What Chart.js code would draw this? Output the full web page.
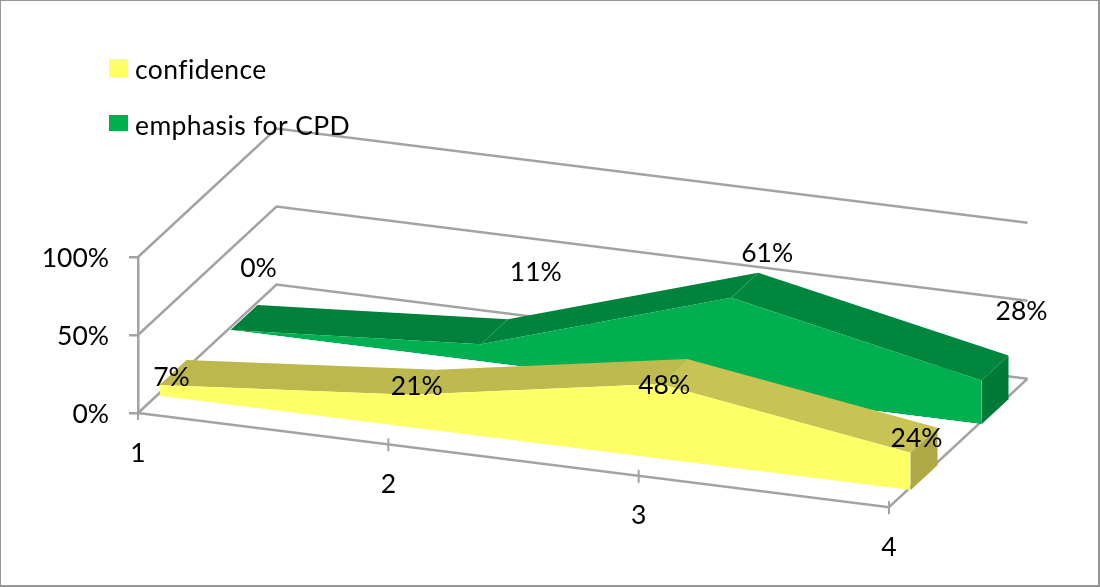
<!DOCTYPE html>
<html>
<head>
<meta charset="utf-8">
<title>confidence and emphasis for CPD</title>
<script src="https://cdn.jsdelivr.net/npm/chart.js@4"></script>
<style>
    html, body { margin: 0; padding: 0; background: #fff; }
    canvas { display: block; }
</style>
</head>
<body>
<canvas id="areaChart" width="1100" height="587"></canvas>
<script>
const categories = ['1', '2', '3', '4'];
const confidence = [7, 21, 48, 24];
const emphasis = [0, 11, 61, 28];
const yTicks = [0, 50, 100];

// oblique projection
const SHEAR = 0.1255;
const FLOOR_DEPTH = [138.5, -128.5];
const RIBBON_DEPTH = [27, -25];
const FONT = '26.5px Lato';

const looks = [
    { offset: [21.5, -17], ribbon: ['#bdb84e', '#bfba4f', '#c8c354'], side: '#aea945',
      nudge: [[12, -8], [7, -8], [4, 1], [6, -14]] },
    { offset: [92.5, -83], ribbon: ['#00813b', '#00833c', '#00873e'], side: '#007a37',
      nudge: [[28, -62], [55, -72], [36, -44], [40, -69]] }
];

function project(chart, i, value, off) {
    const x = chart.scales.x.getPixelForValue(i);
    const y = chart.scales.y.getPixelForValue(value);
    return [x + off[0], y + SHEAR * (x - chart.scales.x.left) + off[1]];
}

function polygon(ctx, pts, color) {
    ctx.beginPath();
    pts.forEach((p, k) => k ? ctx.lineTo(p[0], p[1]) : ctx.moveTo(p[0], p[1]));
    ctx.closePath();
    ctx.fillStyle = color;
    ctx.fill();
}

function line(ctx, pts) {
    ctx.beginPath();
    pts.forEach((p, k) => k ? ctx.lineTo(p[0], p[1]) : ctx.moveTo(p[0], p[1]));
    ctx.stroke();
}

function shift(p, d) {
    return [p[0] + d[0], p[1] + d[1]];
}

const obliquePlugin = {
    id: 'oblique',
    beforeDatasetsDraw(chart) {
        const ctx = chart.ctx;
        const last = categories.length - 1;
        ctx.save();
        ctx.strokeStyle = '#a3a3a3';
        ctx.lineWidth = 2.5;
        yTicks.forEach(v => {
            const a = project(chart, 0, v, [0, 0]);
            const b = shift(a, FLOOR_DEPTH);
            line(ctx, [a, b, shift(project(chart, last, v, [0, 0]), FLOOR_DEPTH)]);
        });
        // front and right edge of the floor, category ticks
        const end = project(chart, last, 0, [0, 0]);
        line(ctx, [project(chart, 0, 0, [0, 0]), end, shift(end, FLOOR_DEPTH)]);
        ctx.lineWidth = 2;
        categories.forEach((c, i) => {
            const p = project(chart, i, 0, [0, 0]);
            line(ctx, [[p[0], p[1] - 6], [p[0], p[1] + 7]]);
        });
        ctx.restore();
    },
    beforeDatasetDraw(chart, args) {
        const ctx = chart.ctx;
        const look = looks[args.index];
        const values = chart.data.datasets[args.index].data;
        const last = values.length - 1;
        for (let i = 0; i < last; i++) {
            const a = project(chart, i, values[i], look.offset);
            const b = project(chart, i + 1, values[i + 1], look.offset);
            polygon(ctx, [a, b, shift(b, RIBBON_DEPTH), shift(a, RIBBON_DEPTH)], look.ribbon[i]);
        }
        const top = project(chart, last, values[last], look.offset);
        const bottom = project(chart, last, 0, look.offset);
        polygon(ctx, [top, shift(top, RIBBON_DEPTH), shift(bottom, RIBBON_DEPTH), bottom], look.side);
        // the native area fill and line come after this, sheared
        ctx.save();
        ctx.transform(1, SHEAR, 0, 1, look.offset[0], look.offset[1] - SHEAR * chart.scales.x.left);
    },
    afterDatasetDraw(chart) {
        chart.ctx.restore();
    },
    afterDatasetsDraw(chart) {
        const ctx = chart.ctx;
        ctx.save();
        ctx.font = FONT;
        ctx.fillStyle = '#000';
        ctx.textAlign = 'center';
        ctx.textBaseline = 'middle';
        chart.data.datasets.forEach((ds, s) => {
            ds.data.forEach((v, i) => {
                const p = project(chart, i, v, looks[s].offset);
                ctx.fillText(v + '%', p[0] + looks[s].nudge[i][0], p[1] + looks[s].nudge[i][1]);
            });
        });
        categories.forEach((c, i) => {
            const p = project(chart, i, 0, [0, 0]);
            ctx.fillText(c, p[0], p[1] + 40);
        });
        // legend
        ctx.textAlign = 'left';
        ctx.letterSpacing = '0.4px';
        chart.data.datasets.forEach((ds, s) => {
            const y = [68, 124][s];
            ctx.fillStyle = ds.backgroundColor;
            ctx.fillRect(109, y - 9, 19, s ? 16 : 18);
            ctx.fillStyle = '#000';
            ctx.fillText(ds.label, 135, y + 2);
        });
        ctx.letterSpacing = '0px';
        // chart frame
        ctx.strokeStyle = '#969696';
        ctx.lineWidth = 2;
        ctx.strokeRect(0, 0, 1099, 586);
        ctx.restore();
    }
};

// the filler has to run after the shear is set, so it goes behind our plugin
Chart.register(obliquePlugin);
Chart.unregister(Chart.Filler);
Chart.register(Chart.Filler);

new Chart(document.getElementById('areaChart').getContext('2d'), {
    type: 'line',
    data: {
        labels: categories,
        datasets: [
            { label: 'confidence', data: confidence, backgroundColor: '#ffff66', fill: 'origin', borderWidth: 0, pointRadius: 0, clip: false },
            { label: 'emphasis for CPD', data: emphasis, backgroundColor: '#00b050', fill: 'origin', borderWidth: 0, pointRadius: 0, clip: false }
        ]
    },
    options: {
        responsive: false,
        animation: false,
        layout: { padding: { top: 257, right: 211, bottom: 174, left: 0 } },
        plugins: { legend: { display: false }, tooltip: { enabled: false } },
        scales: {
            x: { display: false, offset: false },
            y: {
                min: 0,
                max: 100,
                afterFit(scale) { scale.width = 138; },
                afterBuildTicks(scale) { scale.ticks = yTicks.map(v => ({ value: v })); },
                border: { color: '#a3a3a3', width: 2.5 },
                grid: { drawOnChartArea: false, color: '#a3a3a3', lineWidth: 2.5, tickLength: 9 },
                ticks: {
                    padding: 20,
                    labelOffset: 1.5,
                    color: '#000',
                    font: { family: 'Lato', size: 26.5 },
                    callback: v => v + '%'
                }
            }
        }
    }
});
</script>
</body>
</html>
